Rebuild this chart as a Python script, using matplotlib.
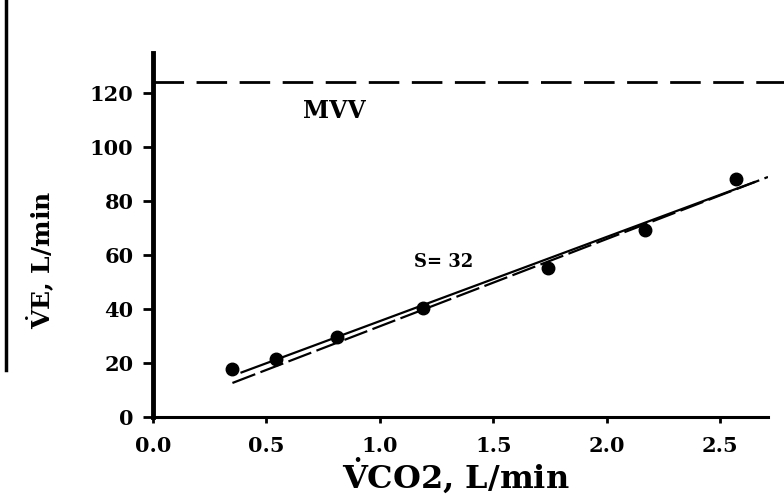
import matplotlib
matplotlib.use("Agg")
import matplotlib.pyplot as plt
from matplotlib.lines import Line2D

# measured points: VCO2 (L/min) vs VE (L/min)
vco2 = [0.35, 0.54, 0.81, 1.19, 1.74, 2.17, 2.57]
ve = [17.8, 21.5, 29.6, 40.4, 55.2, 69.3, 88.1]

# regression line (slope label) and dashed reference line, as end points
fit_x = [0.39, 2.65]
fit_y = [16.5, 87.0]
ref_x = [0.35, 2.71]
ref_y = [12.6, 88.9]

mvv = 124
mvv_x = [0.0, 2.78]

xticks = [0.0, 0.5, 1.0, 1.5, 2.0, 2.5]
yticks = [0, 20, 40, 60, 80, 100, 120]

plt.rcParams["font.family"] = ["DejaVu Serif"]
plt.rcParams["font.weight"] = "bold"
plt.rcParams["mathtext.fontset"] = "dejavuserif"

fig = plt.figure(figsize=(7.84, 4.97), dpi=100)
ax = fig.add_axes([153 / 784, 80 / 497, 615 / 784, 364.5 / 497])

ax.plot(ref_x, ref_y, color="black", lw=1.6, dashes=[11, 2.5])
ax.plot(fit_x, fit_y, color="black", lw=1.6)
ax.plot(vco2, ve, "o", color="black", markersize=9)

mvv_line, = ax.plot(mvv_x, [mvv, mvv], color="black", lw=2.0, clip_on=False)
mvv_line.set_dashes([11, 4.5])

ax.text(0.66, 110.7, "MVV", fontsize=17, fontweight="bold", ha="left", va="baseline")
ax.text(1.15, 55.6, "S= 32", fontsize=13, fontweight="bold", ha="left", va="baseline")

ax.set_xlim(0, 2.71)
ax.set_ylim(0, 135)
ax.set_xticks(xticks)
ax.set_xticklabels([f"{t:.1f}" for t in xticks])
ax.set_yticks(yticks)

for side in ["top", "right"]:
    ax.spines[side].set_visible(False)
ax.spines["left"].set_linewidth(3.5)
ax.spines["bottom"].set_linewidth(2.2)

ax.tick_params(axis="y", length=7, width=2, pad=7, labelsize=15)
ax.tick_params(axis="x", length=4, width=2, pad=10, labelsize=15)
for lab in ax.get_xticklabels() + ax.get_yticklabels():
    lab.set_fontweight("bold")

ax.set_xlabel(r"$\mathbf{\dot{V}}$CO2, L/min", fontsize=23, fontweight="bold",
              va="baseline")
ax.xaxis.set_label_coords(0.493, -0.197)
ax.set_ylabel(r"$\mathbf{\dot{V}}$E, L/min", fontsize=18, fontweight="bold", va="center")
ax.yaxis.set_label_coords(-0.184, 0.43)

# edge of the neighbouring panel on the left
fig.add_artist(Line2D([6 / 784, 6 / 784], [1.0, 1 - 370 / 497],
                      transform=fig.transFigure, color="black", lw=2.5))

fig.savefig("out.png", dpi=100)
